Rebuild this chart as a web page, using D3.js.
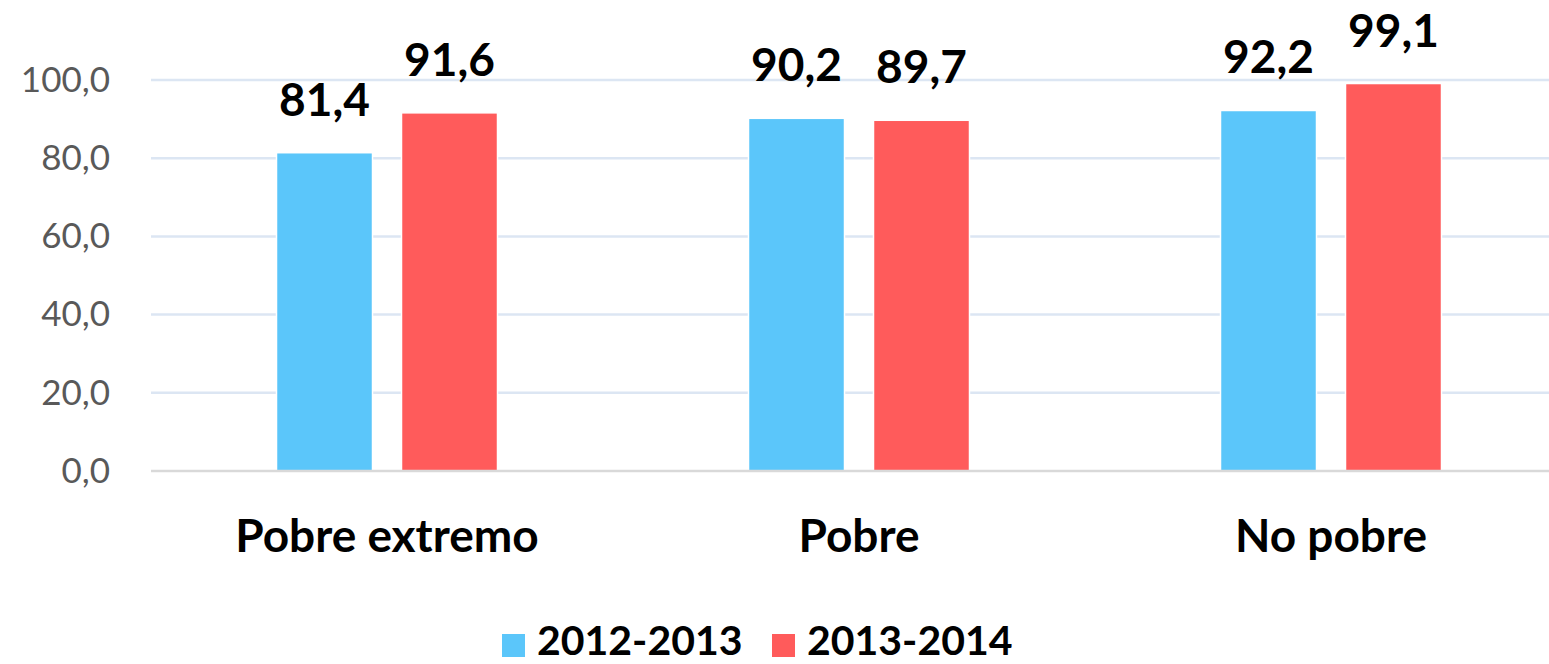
<!DOCTYPE html>
<html lang="es">
<head>
  <meta charset="utf-8" />
  <title>Pobreza</title>
  <script src="https://cdn.jsdelivr.net/npm/d3@7"></script>
  <style>
    html, body { margin: 0; background: #fff; }
    svg { display: block; font-family: Lato, "Open Sans", sans-serif; }
  </style>
</head>
<body>
<script>
// chart data
const categories = ["Pobre extremo", "Pobre", "No pobre"];
const series = ["2012-2013", "2013-2014"];
const values2012 = [81.4, 90.2, 92.2];
const values2013 = [91.6, 89.7, 99.1];
const yTicks = [0, 20, 40, 60, 80, 100];
const colors = ["#5bc6fa", "#ff5b5b"];

const W = 1549, H = 664;
const svg = d3.select("body").append("svg")
  .attr("width", W).attr("height", H);

const x = d3.scaleBand().domain(categories).range([151, 1567]);
const half = x.bandwidth() / 2;
const x1 = d3.scaleBand().domain(series)
  .range([half - 110.5, half + 110.5])
  .paddingInner(0.232);
const y = d3.scaleLinear().domain([0, 100]).range([471, 80]);

const fmt = v => d3.format(".1f")(v).replace(".", ",");

// gridlines
svg.append("g").selectAll("line")
  .data(yTicks.filter(t => t > 0))
  .join("line")
    .attr("x1", 151).attr("x2", W)
    .attr("y1", d => y(d)).attr("y2", d => y(d))
    .attr("stroke", "#dce6f3").attr("stroke-width", 2.5);

// y axis labels
const yAxis = svg.append("g")
  .attr("transform", "translate(110,0)")
  .call(d3.axisLeft(y).tickValues(yTicks).tickFormat(fmt).tickSize(0).tickPadding(0));
yAxis.select(".domain").remove();
yAxis.selectAll("text")
  .attr("font-family", "Lato")
  .attr("font-size", 35)
  .attr("fill", "#595959");

// bars
const rows = categories.map((c, i) => ({ cat: c, vals: [values2012[i], values2013[i]] }));
const groups = svg.append("g").selectAll("g")
  .data(rows)
  .join("g")
    .attr("transform", d => `translate(${x(d.cat)},0)`);

groups.selectAll("rect")
  .data(d => d.vals.map((v, j) => ({ s: series[j], v, j })))
  .join("rect")
    .attr("x", d => x1(d.s))
    .attr("width", x1.bandwidth())
    .attr("y", d => y(d.v))
    .attr("height", d => y(0) - y(d.v))
    .attr("fill", d => colors[d.j])
    .attr("stroke", "#fff").attr("stroke-width", 1.5);

groups.selectAll("text.val")
  .data(d => d.vals.map((v, j) => ({ s: series[j], v, j })))
  .join("text")
    .attr("class", "val")
    .attr("x", d => x1(d.s) + x1.bandwidth() / 2)
    .attr("y", d => y(d.v) - 37)
    .attr("text-anchor", "middle")
    .attr("font-size", 46)
    .attr("font-weight", "bold")
    .attr("fill", "#000")
    .text(d => fmt(d.v));

// x axis line
svg.append("line")
  .attr("x1", 151).attr("x2", W)
  .attr("y1", y(0)).attr("y2", y(0))
  .attr("stroke", "#d9d9d9").attr("stroke-width", 2.5);

// category labels
svg.append("g").selectAll("text")
  .data(categories)
  .join("text")
    .attr("x", d => x(d) + half)
    .attr("y", 552)
    .attr("text-anchor", "middle")
    .attr("font-size", 46)
    .attr("font-weight", "bold")
    .text(d => d);

// legend
const legendX = [502, 772];
const legend = svg.append("g").selectAll("g")
  .data(series)
  .join("g")
    .attr("transform", (d, i) => `translate(${legendX[i]},634)`);
legend.append("rect")
  .attr("width", 23).attr("height", 23)
  .attr("fill", (d, i) => colors[i]);
legend.append("text")
  .attr("x", 35).attr("y", 21)
  .attr("font-size", 41)
  .attr("font-weight", "bold")
  .text(d => d);
</script>
</body>
</html>
